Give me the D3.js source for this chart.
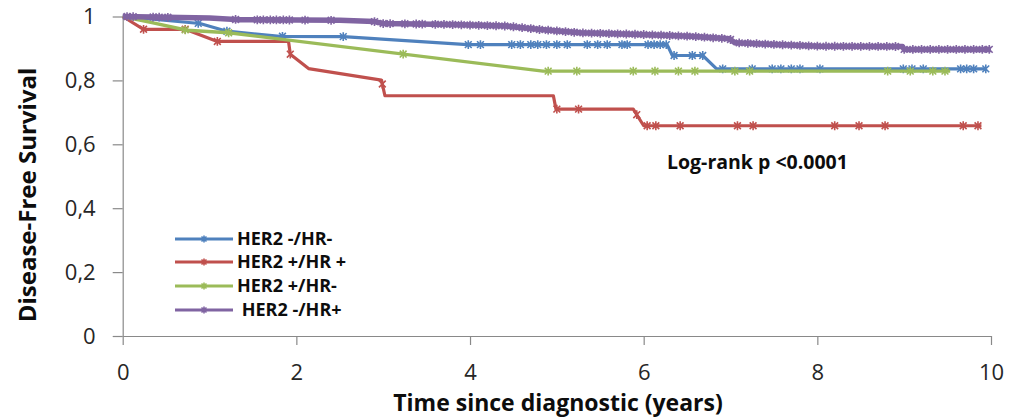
<!DOCTYPE html>
<html>
<head>
<meta charset="utf-8">
<script src="https://cdn.jsdelivr.net/npm/d3@7"></script>
<style>
  html, body { margin: 0; padding: 0; background: #ffffff; }
  svg { display: block; }
  text { font-family: "Open Sans", "DejaVu Sans", sans-serif; }
</style>
</head>
<body>
<svg id="chart" width="1019" height="419"></svg>
<script>
// ---------------- DATA ----------------
const seriesNames = ["HER2 -/HR-", "HER2 +/HR +", "HER2 +/HR-", " HER2 -/HR+"];

// Blue: HER2 -/HR-
const blueTimes  = [0, 0.89, 1.20, 1.81, 2.54, 3.97, 6.27, 6.33, 6.68, 6.84, 9.94];
const blueValues = [1, 0.978, 0.954, 0.938, 0.937, 0.912, 0.912, 0.878, 0.878, 0.836, 0.836];
const blueCensor = [0.87, 1.20, 1.84, 2.54, 3.98, 4.12, 4.48, 4.58, 4.70, 4.78, 4.88, 5.0, 5.12, 5.35, 5.47, 5.58, 5.75, 5.81, 6.05, 6.12, 6.19, 6.26,
                    6.35, 6.56, 6.68, 6.91, 7.25, 7.48, 7.58, 7.70, 7.80, 8.03, 8.99, 9.09, 9.22, 9.65, 9.72, 9.80, 9.94];

// Red: HER2 +/HR +
const redTimes  = [0, 0.24, 0.72, 1.09, 1.91, 1.93, 2.14, 2.98, 3.02, 4.96, 4.99, 5.88, 6.00, 9.89];
const redValues = [1, 0.960, 0.960, 0.922, 0.922, 0.882, 0.837, 0.801, 0.752, 0.752, 0.710, 0.710, 0.658, 0.658];
const redCensor = [0.24, 0.72, 1.09, 1.93, 2.99, 5.0, 5.25, 5.92, 6.04, 6.14, 6.42, 7.08, 7.26, 8.20, 8.48, 8.78, 9.68, 9.85];

// Green: HER2 +/HR-
const greenTimes  = [0, 0.35, 0.74, 1.22, 4.84, 9.53];
const greenValues = [1, 0.980, 0.957, 0.949, 0.829, 0.829];
const greenCensor = [0.72, 1.22, 3.23, 4.90, 5.23, 5.88, 6.13, 6.40, 6.59, 7.05, 7.22, 8.81, 9.07, 9.33, 9.47];

// Purple: HER2 -/HR+
const purpleTimes  = [0, 1.0, 1.35, 2.5, 2.9, 3.0, 3.77, 4.43, 4.81, 5.27, 5.96, 6.54, 6.99, 7.05, 7.46, 8.03, 8.98, 9.0, 10.0];
const purpleValues = [1, 0.995, 0.990, 0.988, 0.984, 0.978, 0.975, 0.970, 0.959, 0.949, 0.944, 0.938, 0.930, 0.918, 0.913, 0.907, 0.906, 0.897, 0.897];
const purpleCensor = [0.05, 0.12, 0.35, 0.42, 0.52, 1.3, 1.55, 1.62, 1.70, 1.77, 1.85, 1.92, 2.1, 2.4, 2.9, 3.0, 3.08, 3.25, 3.38, 3.45,
                      3.6, 3.7, 3.8, 3.9, 4.0, 4.1, 4.2, 4.3, 4.4, 4.5, 4.6, 4.7, 4.8, 4.9, 5.0, 5.1, 5.2, 5.3, 5.4, 5.5, 5.6, 5.7,
                      5.8, 5.9, 6.0, 6.1, 6.2, 6.3, 6.4, 6.5, 6.6, 6.7, 6.8, 6.9, 7.0, 7.1, 7.2, 7.3, 7.4, 7.5, 7.6, 7.7, 7.8, 7.9,
                      8.0, 8.1, 8.2, 8.3, 8.4, 8.5, 8.6, 8.7, 8.8, 8.9, 9.0, 9.1, 9.2, 9.3, 9.4, 9.5, 9.6, 9.7, 9.8, 9.9, 9.98];

const seriesColors = ["#4F81BD", "#C0504D", "#9BBB59", "#8064A2"];

const xTickValues = [0, 2, 4, 6, 8, 10];
const xTickLabels = ["0", "2", "4", "6", "8", "10"];
const yTickValues = [0, 0.2, 0.4, 0.6, 0.8, 1];
const yTickLabels = ["0", "0,2", "0,4", "0,6", "0,8", "1"];

const xTitle = "Time since diagnostic (years)";
const yTitle = "Disease-Free Survival";
const annotation = "Log-rank p <0.0001";

// ---------------- LAYOUT ----------------
const svg = d3.select("#chart");
const x = d3.scaleLinear().domain([0, 10]).range([122.7, 991]);
const y = d3.scaleLinear().domain([0, 1]).range([336, 16.5]);

const axisColor = "#898989";
const textColor = "#0d0d0d";

// Y axis
const yAxis = d3.axisLeft(y)
  .tickValues(yTickValues)
  .tickFormat((d, i) => yTickLabels[i])
  .tickSize(10).tickSizeOuter(0).tickPadding(17);
const gy = svg.append("g").attr("transform", `translate(${x(0)},0)`).call(yAxis);
gy.select(".domain").attr("stroke", axisColor).attr("stroke-width", 1.2);
gy.selectAll(".tick line").attr("stroke", axisColor).attr("stroke-width", 1.2);
gy.selectAll(".tick text").attr("fill", "#262626").style("font-size", "22px").style("font-family", "'Open Sans', sans-serif");

// X axis
const xAxis = d3.axisBottom(x)
  .tickValues(xTickValues)
  .tickFormat((d, i) => xTickLabels[i])
  .tickSize(9).tickSizeOuter(0).tickPadding(19);
const gx = svg.append("g").attr("transform", `translate(0,${y(0)})`).call(xAxis);
gx.select(".domain").attr("stroke", axisColor).attr("stroke-width", 1.2);
gx.selectAll(".tick line").attr("stroke", axisColor).attr("stroke-width", 1.2);
gx.selectAll(".tick text").attr("fill", "#262626").style("font-size", "22px").style("font-family", "'Open Sans', sans-serif");

// Titles
svg.append("text")
  .attr("x", 558).attr("y", 411)
  .attr("text-anchor", "middle")
  .style("font-size", "23px").style("font-weight", "bold").attr("fill", textColor)
  .text(xTitle);

svg.append("text")
  .attr("transform", "translate(36,195) rotate(-90)")
  .attr("text-anchor", "middle")
  .style("font-size", "24px").style("font-weight", "bold").attr("fill", textColor)
  .text(yTitle);

svg.append("text")
  .attr("x", 667).attr("y", 169)
  .style("font-size", "19.5px").style("font-weight", "bold").attr("fill", textColor)
  .text(annotation);

// ---------------- SERIES ----------------
const series = [
  { name: seriesNames[0], t: blueTimes, v: blueValues, c: blueCensor, color: seriesColors[0], w: 3.2 },
  { name: seriesNames[1], t: redTimes, v: redValues, c: redCensor, color: seriesColors[1], w: 3.2 },
  { name: seriesNames[2], t: greenTimes, v: greenValues, c: greenCensor, color: seriesColors[2], w: 3.4 },
  { name: seriesNames[3], t: purpleTimes, v: purpleValues, c: purpleCensor, color: seriesColors[3], w: 5.5 }
];

const line = d3.line().x(d => x(d[0])).y(d => y(d[1]));

// value at time t by linear interpolation along the drawn polyline
function valueAt(ts, vs, t) {
  for (let i = 1; i < ts.length; i++) {
    if (t <= ts[i]) {
      const f = (t - ts[i - 1]) / (ts[i] - ts[i - 1] || 1);
      return vs[i - 1] + f * (vs[i] - vs[i - 1]);
    }
  }
  return vs[vs.length - 1];
}

function drawMarker(g, cx, cy, color, s) {
  const p = `M${cx - s},${cy - s}L${cx + s},${cy + s}M${cx - s},${cy + s}L${cx + s},${cy - s}M${cx},${cy - s - 1}L${cx},${cy + s + 1}`;
  g.append("path").attr("d", p).attr("stroke", color).attr("stroke-width", 1.6).attr("fill", "none");
}

series.forEach(s => {
  const g = svg.append("g");
  const pts = s.t.map((t, i) => [t, s.v[i]]);
  g.append("path").datum(pts)
    .attr("d", line)
    .attr("fill", "none")
    .attr("stroke", s.color)
    .attr("stroke-width", s.w)
    .attr("stroke-linejoin", "round");
  s.c.forEach(t => {
    drawMarker(g, x(t), y(valueAt(s.t, s.v, t)), s.color, 3.4);
  });
});

// ---------------- LEGEND ----------------
const legendRows = [239, 262, 286, 310];
const legend = svg.append("g");
series.forEach((s, i) => {
  const ly = legendRows[i];
  legend.append("line")
    .attr("x1", 175).attr("x2", 233).attr("y1", ly).attr("y2", ly)
    .attr("stroke", s.color).attr("stroke-width", 3);
  drawMarker(legend, 204, ly, s.color, 2.5);
  legend.append("text")
    .attr("x", 237).attr("y", ly).attr("dy", "0.36em")
    .style("font-size", "18px").style("font-weight", "bold").attr("fill", textColor)
    .attr("xml:space", "preserve")
    .text(s.name);
});
</script>
</body>
</html>
